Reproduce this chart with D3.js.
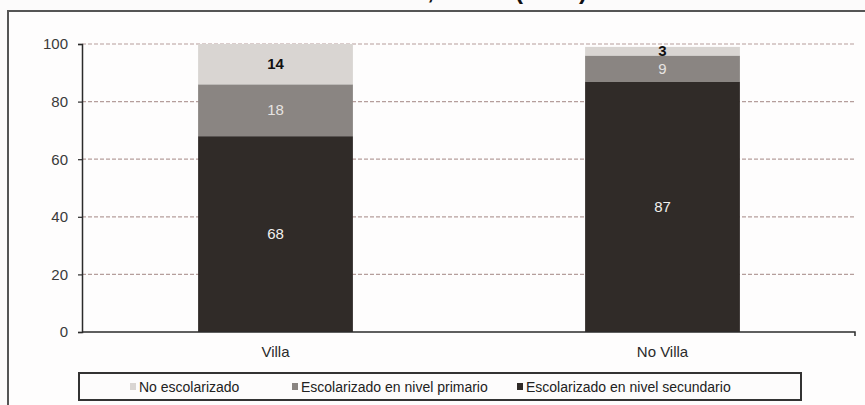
<!DOCTYPE html>
<html>
<head>
<meta charset="utf-8">
<script src="https://cdn.jsdelivr.net/npm/d3@7"></script>
<style>
  html, body { margin: 0; padding: 0; background: #fcfbfb; }
  svg { display: block; font-family: "Liberation Sans", Arial, sans-serif; }
</style>
</head>
<body>
<div id="chart"></div>
<script>
// --- Data ---
const categories = ["Villa", "No Villa"];
const seriesNames = ["Escolarizado en nivel secundario", "Escolarizado en nivel primario", "No escolarizado"];
const secundario = [68, 87];
const primario = [18, 9];
const noEscolarizado = [14, 3];
const yTicks = [0, 20, 40, 60, 80, 100];
const legendOrder = ["No escolarizado", "Escolarizado en nivel primario", "Escolarizado en nivel secundario"];

// --- Look ---
const W = 865, H = 405;
const colors = {
  "No escolarizado": "#d9d5d2",
  "Escolarizado en nivel primario": "#8a8582",
  "Escolarizado en nivel secundario": "#302b28"
};
const labelStyle = {
  "No escolarizado": { fill: "#111", weight: "bold" },
  "Escolarizado en nivel primario": { fill: "#e6e3e1", weight: "normal" },
  "Escolarizado en nivel secundario": { fill: "#f2f0ee", weight: "normal" }
};

const svg = d3.select("#chart").append("svg")
  .attr("width", W)
  .attr("height", H);

// Title (mostly cut off at the top of the picture)
svg.append("text").attr("x", 434).attr("y", -1).attr("text-anchor", "end")
  .attr("font-size", 24).attr("font-weight", "bold").attr("fill", "#111")
  .text("Ciudad de Buenos Aires,");
svg.append("text").attr("x", 587).attr("y", -1).attr("text-anchor", "end")
  .attr("font-size", 24).attr("font-weight", "bold").attr("fill", "#111")
  .text("2010 (en %)");

// Chart frame
svg.append("rect")
  .attr("x", 8).attr("y", 11).attr("width", 900).attr("height", 500)
  .attr("fill", "#fefdfd").attr("stroke", "#555").attr("stroke-width", 2);

const plot = { left: 82, right: 856, top: 44, bottom: 332 };

const x = d3.scaleBand().domain(categories).range([plot.left, plot.right]).padding(0);
const y = d3.scaleLinear().domain([0, 100]).range([plot.bottom, plot.top]);
const barW = x.bandwidth() * 0.4;

// Grid lines
svg.append("g")
  .selectAll("line")
  .data(yTicks.filter(t => t > 0))
  .join("line")
  .attr("x1", plot.left).attr("x2", plot.right - 2)
  .attr("y1", d => y(d)).attr("y2", d => y(d))
  .attr("stroke", "#b59e9c").attr("stroke-width", 1.2)
  .attr("stroke-dasharray", "4,2");

// Stacked data
const table = categories.map((c, i) => ({
  cat: c,
  "Escolarizado en nivel secundario": secundario[i],
  "Escolarizado en nivel primario": primario[i],
  "No escolarizado": noEscolarizado[i]
}));
const stacked = d3.stack().keys(seriesNames)(table);

const layers = svg.append("g").selectAll("g")
  .data(stacked)
  .join("g")
  .attr("fill", d => colors[d.key]);

layers.selectAll("rect")
  .data(d => d)
  .join("rect")
  .attr("x", d => x(d.data.cat) + (x.bandwidth() - barW) / 2)
  .attr("width", barW)
  .attr("y", d => y(d[1]))
  .attr("height", d => y(d[0]) - y(d[1]));

// Value labels
stacked.forEach(layer => {
  svg.append("g").selectAll("text")
    .data(layer)
    .join("text")
    .attr("x", d => x(d.data.cat) + x.bandwidth() / 2)
    .attr("y", d => (y(d[0]) + y(d[1])) / 2)
    .attr("dy", "0.35em")
    .attr("text-anchor", "middle")
    .attr("font-size", 15)
    .attr("font-weight", labelStyle[layer.key].weight)
    .attr("fill", labelStyle[layer.key].fill)
    .text(d => d[1] - d[0]);
});

// Y axis
const yAxis = svg.append("g")
  .attr("transform", `translate(${plot.left},0)`)
  .call(d3.axisLeft(y).tickValues(yTicks).tickSize(4).tickPadding(10));
yAxis.select(".domain").attr("stroke", "#2b2b2b").attr("stroke-width", 1.5);
yAxis.selectAll(".tick line").attr("stroke", "#2b2b2b").attr("stroke-width", 1.2);
yAxis.selectAll(".tick text").attr("font-size", 15).attr("fill", "#3a3a3a")
  .attr("font-family", "'Liberation Sans', Arial, sans-serif");

// X axis
const xAxis = svg.append("g")
  .attr("transform", `translate(0,${plot.bottom})`)
  .call(d3.axisBottom(x).tickSize(0).tickPadding(14));
xAxis.select(".domain").attr("stroke", "#2b2b2b").attr("stroke-width", 1.5)
  .attr("d", `M${plot.left},0H${plot.right - 1}V4`);
xAxis.selectAll(".tick text").attr("font-size", 15).attr("fill", "#2a2a2a")
  .attr("font-family", "'Liberation Sans', Arial, sans-serif");

// Legend
const legend = svg.append("g");
legend.append("rect")
  .attr("x", 79).attr("y", 373).attr("width", 722).attr("height", 27)
  .attr("fill", "#fdfcfc").attr("stroke", "#333").attr("stroke-width", 2);

const legendX = [133, 295, 520];
const items = legend.selectAll("g.item")
  .data(legendOrder)
  .join("g")
  .attr("class", "item")
  .attr("transform", (d, i) => `translate(${legendX[i]},387)`);
items.append("rect")
  .attr("x", -3).attr("y", -4).attr("width", 6).attr("height", 7)
  .attr("fill", d => colors[d]);
items.append("text")
  .attr("x", 6).attr("dy", "0.35em")
  .attr("font-size", 14).attr("fill", "#222")
  .text(d => d);
</script>
</body>
</html>
